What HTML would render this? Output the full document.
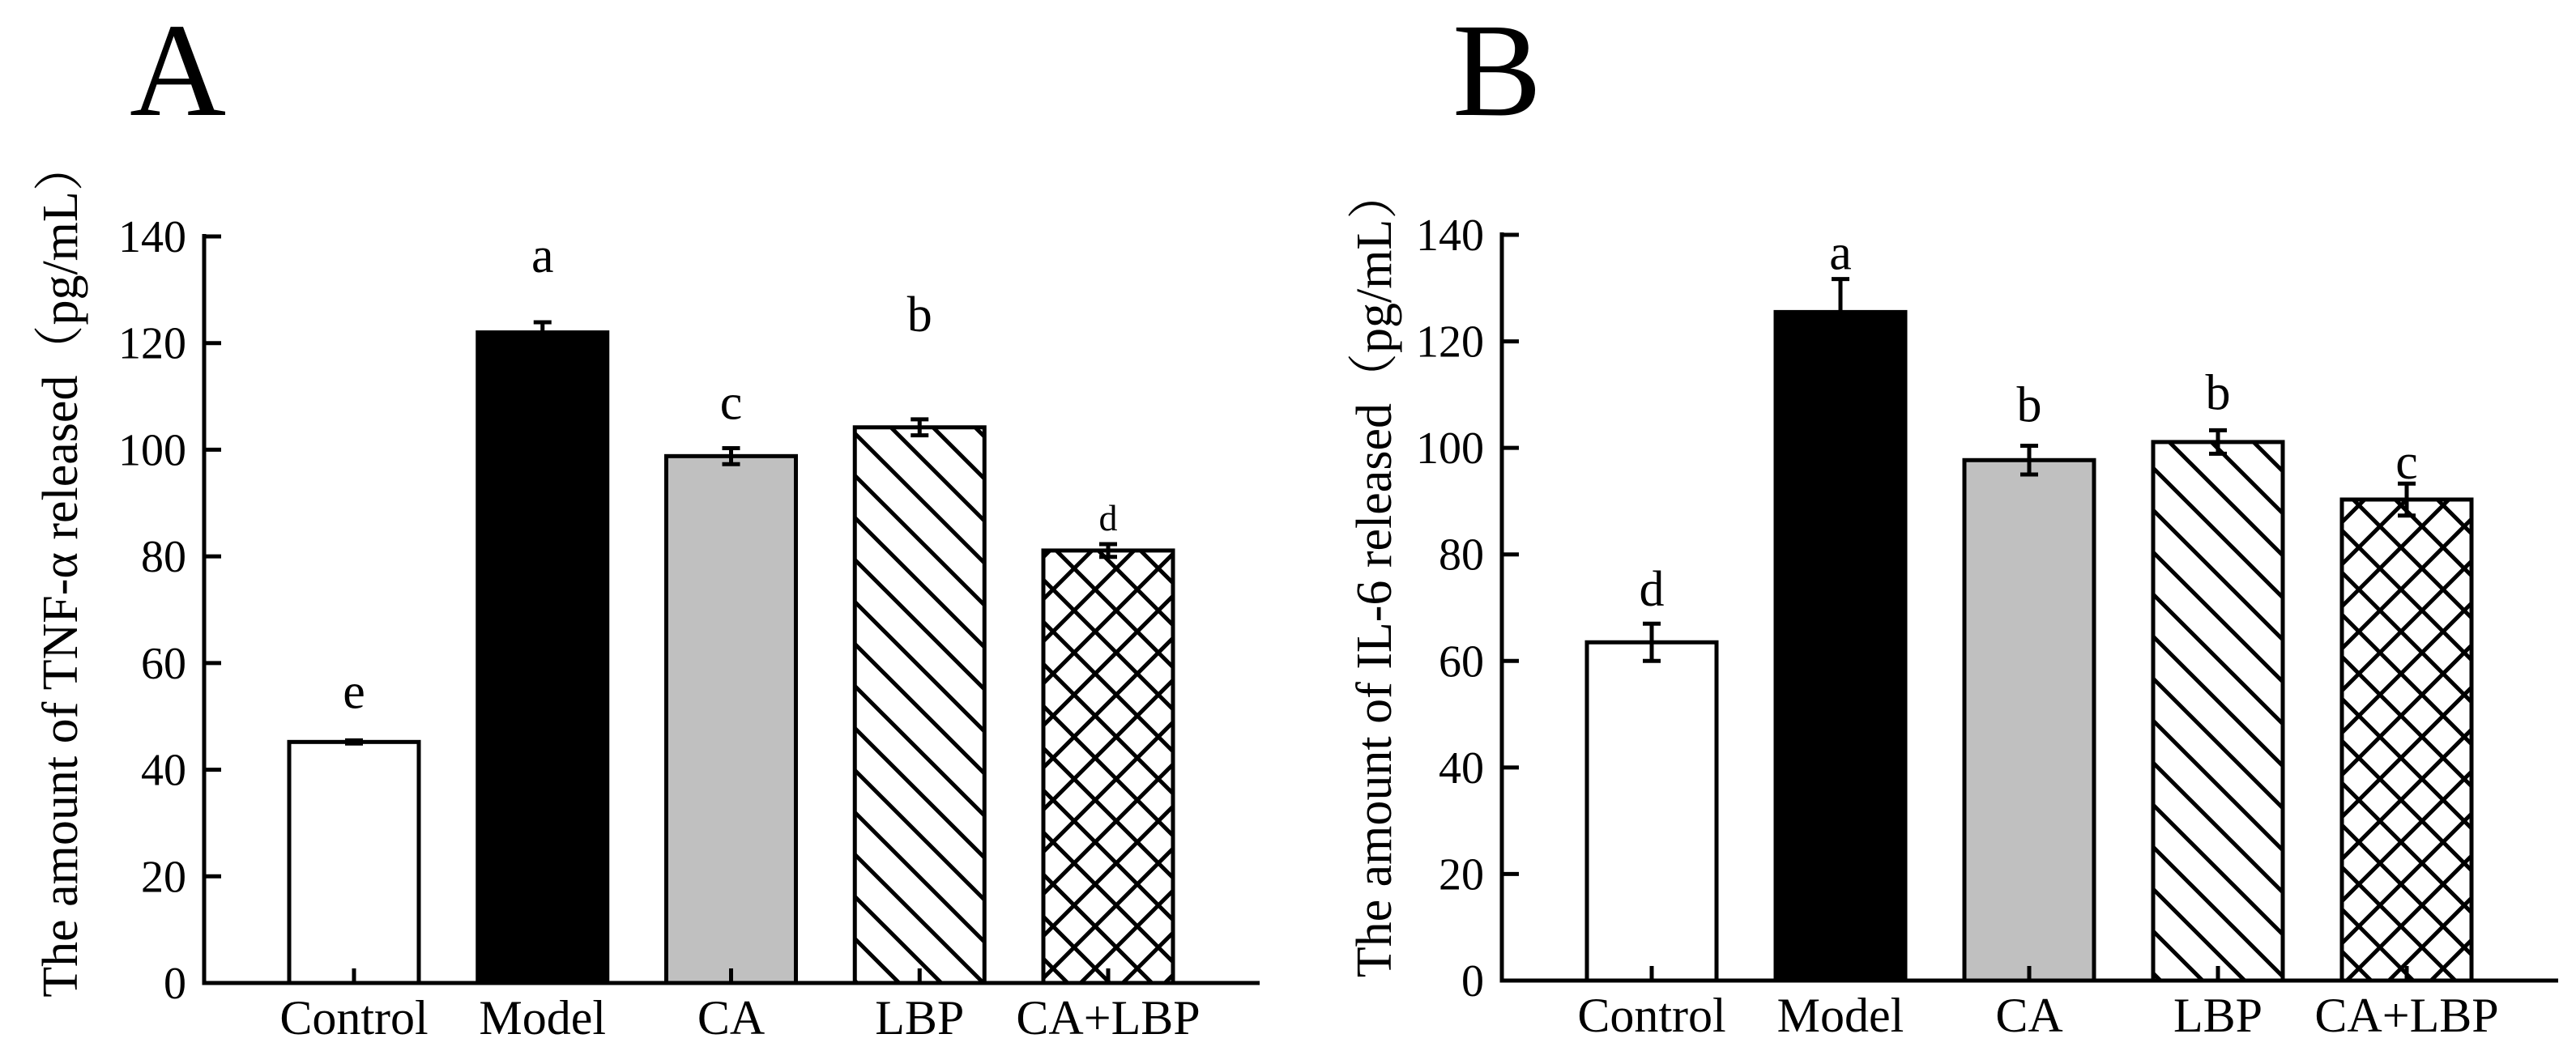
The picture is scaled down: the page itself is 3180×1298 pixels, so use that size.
<!DOCTYPE html>
<html><head><meta charset="utf-8"><style>
html,body{margin:0;padding:0;background:#fff;}
svg{display:block;}
text{font-family:"Liberation Serif","Noto Serif CJK SC",serif;fill:#000;}
</style></head><body>
<svg id="chart" width="3180" height="1298" viewBox="0 0 3180 1298" xmlns="http://www.w3.org/2000/svg">
<defs>
<pattern id="hatchA" patternUnits="userSpaceOnUse" width="52" height="52">
<path d="M-13,-13 L65,65 M-13,39 L13,65 M39,-13 L65,13" stroke="#000" stroke-width="5"/>
</pattern>
<pattern id="crossA" patternUnits="userSpaceOnUse" width="52" height="52">
<path d="M-13,-13 L65,65 M-13,39 L13,65 M39,-13 L65,13 M65,-13 L-13,65 M-13,13 L13,-13 M39,65 L65,39" stroke="#000" stroke-width="5"/>
</pattern>
</defs>
</svg>
<script>
const categories = ["Control","Model","CA","LBP","CA+LBP"];
const tnfValues = [45.2, 122.0, 98.8, 104.2, 81.1];
const tnfErrors = [0.3, 1.9, 1.5, 1.5, 1.2];
const tnfLetters = ["e","a","c","b","d"];
const il6Values = [63.5, 125.5, 97.7, 101.1, 90.3];
const il6Errors = [3.5, 6.2, 2.7, 2.2, 3.0];
const il6Letters = ["d","a","b","b","c"];
const yTicks = [0,20,40,60,80,100,120,140];

const NS = "http://www.w3.org/2000/svg";
const svg = document.getElementById('chart');
const fills = ["#fff","#000","#c0c0c0","url(#hatchA)","url(#crossA)"];
function mk(tag, attrs, parent){
  const e = document.createElementNS(NS, tag);
  for (const k in attrs) e.setAttribute(k, attrs[k]);
  (parent||svg).appendChild(e);
  return e;
}
function panel(cfg){
  const g = mk('g', {});
  
  
  const y = v => cfg.y0 - (v/140)*(cfg.y0 - cfg.y140);
  const x = i => cfg.c0 + i*cfg.step;
  const L = mk('text', {x:cfg.letterX, y:142, 'font-size':165}, g);
  L.textContent = cfg.panelLetter;
  
  
  const t = mk('text', {x:0, y:0, 'font-size':62, 'text-anchor':'middle', transform:`translate(${cfg.titleX},${cfg.titleY}) rotate(-90)`}, g);
  t.textContent = cfg.title;
  
  
  yTicks.forEach(v => {
    const tk = mk('line', {x1:cfg.ax, x2:cfg.ax+21, y1:y(v), y2:y(v), stroke:'#000','stroke-width':5}, g);
    
    
    const tl = mk('text', {x:cfg.ax-22, y:y(v)+19, 'font-size':56, 'text-anchor':'end'}, g);
    tl.textContent = v;
    
    
  });
  categories.forEach((c, i) => {
    const v = cfg.values[i], e = cfg.errors[i], cx = x(i);
    const r = mk('rect', {x:cx-80, y:y(v), width:160, height:cfg.y0-y(v), fill:fills[i], stroke:'#000','stroke-width':5}, g);
    
    
    const tk = mk('line', {x1:cx, x2:cx, y1:cfg.y0, y2:cfg.y0-18, stroke:'#000','stroke-width':5}, g);
    
    
    const eb = mk('path', {d:`M${cx},${y(v+e)} V${y(v-e)} M${cx-11},${y(v+e)} H${cx+11} M${cx-11},${y(v-e)} H${cx+11}`, stroke:'#000','stroke-width':5, fill:'none'}, g);
    
    
    const small = cfg.smallIdx === i;
    const lt = mk('text', {x:cx, y:y(v+e)-(small?17:22)+cfg.letterShift[i], 'font-size':small?46:62, 'text-anchor':'middle'}, g);
    lt.textContent = cfg.letters[i];
    
    
    const xl = mk('text', {x:cx, y:cfg.labelY, 'font-size':60, 'text-anchor':'middle'}, g);
    xl.textContent = c;
    
    
  });
  const ax = mk('path', {d:`M${cfg.ax},${cfg.y140-3} V${cfg.y0} H${cfg.xEnd}`, stroke:'#000','stroke-width':5, fill:'none'}, g);
  
  
}
panel({name:'panel-a-tnf', panelLetter:'A', letterX:160, title:'The amount of TNF-α released（pg/mL）', titleX:95, titleY:703,
  ax:252, y0:1214, y140:292, c0:437, step:232.75, xEnd:1555, labelY:1277,
  values:tnfValues, errors:tnfErrors, letters:tnfLetters, smallIdx:4, letterShift:[-18,-40,-14,-87,0]});
panel({name:'panel-b-il6', panelLetter:'B', letterX:1793, title:'The amount of IL-6 released（pg/mL）', titleX:1717, titleY:708,
  ax:1854, y0:1211, y140:290, c0:2039, step:233, xEnd:3158, labelY:1274,
  values:il6Values, errors:il6Errors, letters:il6Letters, smallIdx:-1, letterShift:[0,10,-8,-4,16]});
</script>
</body></html>
